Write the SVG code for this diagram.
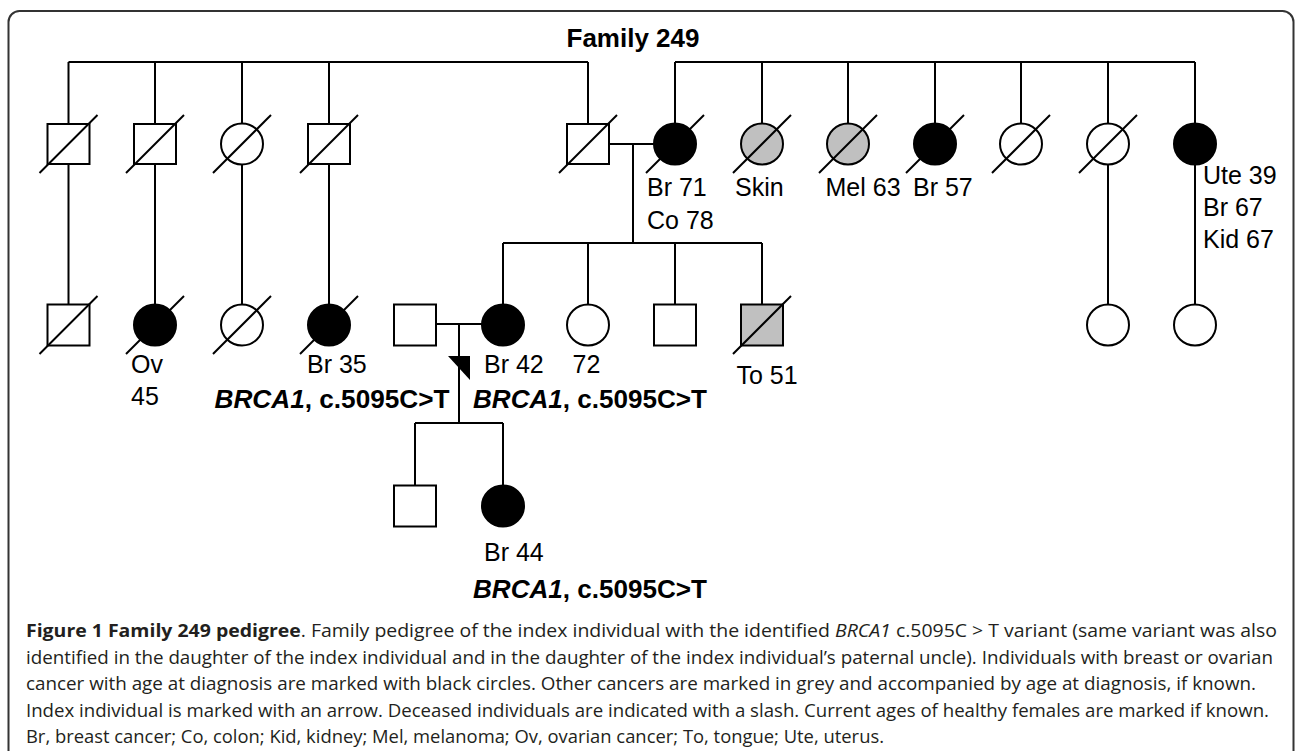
<svg xmlns="http://www.w3.org/2000/svg" width="1295" height="751" viewBox="0 0 1295 751">
<style>
.ln{stroke:#000;stroke-width:2;fill:none}
.sym{stroke:#000;stroke-width:2}
.w{fill:#fff}.b{fill:#000}.g{fill:#c0c0c0}
.sl{stroke:#000;stroke-width:2}
.lbl{font-family:"Liberation Sans",Arial,sans-serif;font-size:25px;fill:#000}
.bd{font-family:"Liberation Sans",Arial,sans-serif;font-size:25px;font-weight:bold;fill:#000}
.cap{font-family:"Open Sans","Liberation Sans",sans-serif;font-size:18px;fill:#231f20}
</style>
<defs>
<rect id="sq2" x="-21" y="-20" width="42" height="40"/>
<rect id="sq3" x="-21" y="-20.5" width="42" height="41"/>
<ellipse id="ci" cx="0" cy="0" rx="21" ry="20.5"/>
<line id="slash" x1="-29" y1="29" x2="29" y2="-29"/>
</defs>
<rect x="8.5" y="11" width="1285" height="760" rx="11" fill="#fff" stroke="#333" stroke-width="2"/>
<text class="bd" x="633" y="46.5" text-anchor="middle" textLength="133" lengthAdjust="spacingAndGlyphs">Family 249</text>

<g id="connectors" class="ln">
<path d="M68.5,62H588M68.5,62V124M155,62V124M242,62V124M329,62V124M588,62V124"/>
<path d="M675,62H1195M675,62V124M762,62V124M848,62V124M935,62V124M1021,62V124M1108,62V124M1195,62V124"/>
<path d="M68.5,164V304.5M155,164V304.5M242,164V304.5M329,164V304.5M1108,164V304.5M1195,164V304.5"/>
<path d="M609,144H654M633,144V243M503,243H762M503,243V304.5M588,243V304.5M675,243V304.5M762,243V304.5"/>
<path d="M436,324H482M459,324V423M415,423H503M415,423V485.5M503,423V485.5"/>
<polygon points="448,356 470,356 470,380" fill="#000" stroke="none"/>
</g>

<g id="n-g2-1"><use href="#sq2" x="68.5" y="144" class="sym w"/><use href="#slash" x="68.5" y="144" class="sl"/></g>
<g id="n-g2-2"><use href="#sq2" x="155" y="144" class="sym w"/><use href="#slash" x="155" y="144" class="sl"/></g>
<g id="n-g2-3"><use href="#ci" x="242" y="144" class="sym w"/><use href="#slash" x="242" y="144" class="sl"/></g>
<g id="n-g2-4"><use href="#sq2" x="329" y="144" class="sym w"/><use href="#slash" x="329" y="144" class="sl"/></g>
<g id="n-g2-father"><use href="#sq2" x="588" y="144" class="sym w"/><use href="#slash" x="588" y="144" class="sl"/></g>
<g id="n-g2-mother"><use href="#ci" x="675" y="144" class="sym b"/><use href="#slash" x="675" y="144" class="sl"/>
<text class="lbl" x="647" y="196">Br 71</text><text class="lbl" x="647" y="228.5">Co 78</text></g>
<g id="n-g2-skin"><use href="#ci" x="762" y="144" class="sym g"/><use href="#slash" x="762" y="144" class="sl"/><text class="lbl" x="735" y="196">Skin</text></g>
<g id="n-g2-mel"><use href="#ci" x="848" y="144" class="sym g"/><use href="#slash" x="848" y="144" class="sl"/><text class="lbl" x="825.5" y="196">Mel 63</text></g>
<g id="n-g2-br57"><use href="#ci" x="935" y="144" class="sym b"/><use href="#slash" x="935" y="144" class="sl"/><text class="lbl" x="913" y="196">Br 57</text></g>
<g id="n-g2-8"><use href="#ci" x="1021" y="144" class="sym w"/><use href="#slash" x="1021" y="144" class="sl"/></g>
<g id="n-g2-9"><use href="#ci" x="1108" y="144" class="sym w"/><use href="#slash" x="1108" y="144" class="sl"/></g>
<g id="n-g2-10"><use href="#ci" x="1195" y="144" class="sym b"/>
<text class="lbl" x="1203" y="184">Ute 39</text><text class="lbl" x="1203" y="216">Br 67</text><text class="lbl" x="1203" y="247.5">Kid 67</text></g>

<g id="n-g3-1"><use href="#sq3" x="68.5" y="325" class="sym w"/><use href="#slash" x="68.5" y="325" class="sl"/></g>
<g id="n-g3-2"><use href="#ci" x="155" y="325" class="sym b"/><use href="#slash" x="155" y="325" class="sl"/>
<text class="lbl" x="131" y="373">Ov</text><text class="lbl" x="131" y="405">45</text></g>
<g id="n-g3-3"><use href="#ci" x="242" y="325" class="sym w"/><use href="#slash" x="242" y="325" class="sl"/></g>
<g id="n-g3-4"><use href="#ci" x="329" y="325" class="sym b"/><use href="#slash" x="329" y="325" class="sl"/>
<text class="lbl" x="307" y="373">Br 35</text>
<text class="bd" x="214.5" y="408" textLength="235" lengthAdjust="spacingAndGlyphs"><tspan font-style="italic">BRCA1</tspan>, c.5095C&gt;T</text></g>
<g id="n-g3-husband"><use href="#sq3" x="415" y="325" class="sym w"/></g>
<g id="n-g3-index"><use href="#ci" x="503" y="325" class="sym b"/>
<text class="lbl" x="484" y="373">Br 42</text>
<text class="bd" x="473" y="408" textLength="234" lengthAdjust="spacingAndGlyphs"><tspan font-style="italic">BRCA1</tspan>, c.5095C&gt;T</text></g>
<g id="n-g3-72"><use href="#ci" x="588" y="325" class="sym w"/><text class="lbl" x="572.5" y="373">72</text></g>
<g id="n-g3-brother"><use href="#sq3" x="675" y="325" class="sym w"/></g>
<g id="n-g3-to51"><use href="#sq3" x="762" y="325" class="sym g"/><use href="#slash" x="762" y="325" class="sl"/><text class="lbl" x="736.5" y="384">To 51</text></g>
<g id="n-g3-r1"><use href="#ci" x="1108" y="325" class="sym w"/></g>
<g id="n-g3-r2"><use href="#ci" x="1195" y="325" class="sym w"/></g>

<g id="n-g4-son"><use href="#sq3" x="415" y="506" class="sym w"/></g>
<g id="n-g4-daughter"><use href="#ci" x="503" y="506" class="sym b"/>
<text class="lbl" x="484" y="561">Br 44</text>
<text class="bd" x="473" y="598" textLength="234" lengthAdjust="spacingAndGlyphs"><tspan font-style="italic">BRCA1</tspan>, c.5095C&gt;T</text></g>

<g id="caption" class="cap">
<text x="26" y="637" textLength="1251" lengthAdjust="spacingAndGlyphs"><tspan font-weight="bold">Figure 1 Family 249 pedigree</tspan>. Family pedigree of the index individual with the identified <tspan font-style="italic">BRCA1</tspan> c.5095C &gt; T variant (same variant was also</text>
<text x="26" y="663.5" textLength="1247" lengthAdjust="spacingAndGlyphs">identified in the daughter of the index individual and in the daughter of the index individual’s paternal uncle). Individuals with breast or ovarian</text>
<text x="26" y="690" textLength="1230" lengthAdjust="spacingAndGlyphs">cancer with age at diagnosis are marked with black circles. Other cancers are marked in grey and accompanied by age at diagnosis, if known.</text>
<text x="26" y="716.5" textLength="1243" lengthAdjust="spacingAndGlyphs">Index individual is marked with an arrow. Deceased individuals are indicated with a slash. Current ages of healthy females are marked if known.</text>
<text x="26" y="743" textLength="858" lengthAdjust="spacingAndGlyphs">Br, breast cancer; Co, colon; Kid, kidney; Mel, melanoma; Ov, ovarian cancer; To, tongue; Ute, uterus.</text>
</g>
</svg>
